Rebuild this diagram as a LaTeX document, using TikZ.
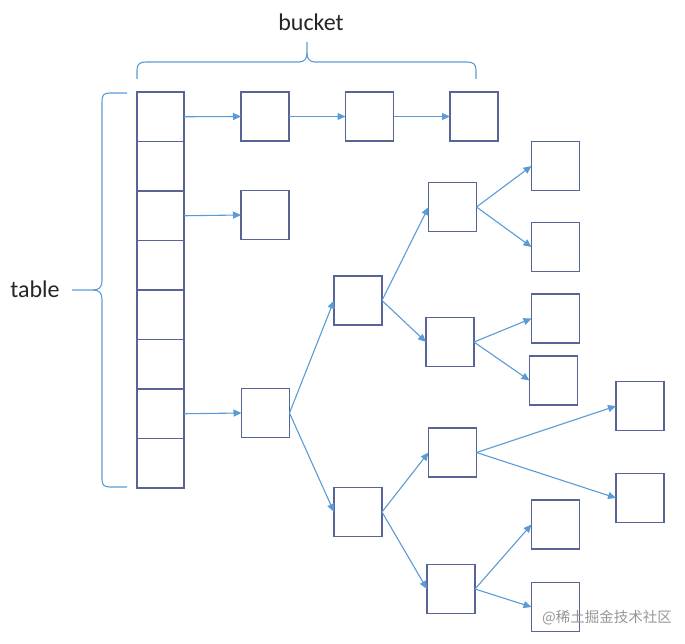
\documentclass[tikz,border=0pt]{standalone}
\usepackage{fontspec}
\setmainfont{Carlito}
\newfontfamily\cjkfont{Noto Sans CJK SC}
\usetikzlibrary{arrows.meta}
\definecolor{boxcol}{RGB}{88,100,150}
\definecolor{arrcol}{RGB}{91,155,213}
\definecolor{wmcol}{RGB}{150,150,150}
\tikzset{
  cell/.style={draw=boxcol, line width=1.2pt, minimum width=47pt, minimum height=49.5pt, inner sep=0pt, outer sep=0pt},
  bx/.style={draw=boxcol, line width=1.2pt, minimum width=48pt, minimum height=49pt, inner sep=0pt, outer sep=0pt},
  conn/.style={draw=arrcol, line width=1.1pt, -{Triangle[length=8pt,width=7pt]}},
  brc/.style={draw=arrcol, line width=1.1pt},
  lbl/.style={font=\fontsize{24}{28}\selectfont, text=black!85, inner sep=0pt}
}
\begin{document}
\begin{tikzpicture}[x=1pt,y=-1pt]
\useasboundingbox (0,0) rectangle (685,644);
% table cells
\foreach \i in {0,...,7} {
  \node[cell] (t\i) at (160.5, {92+49.5*(\i+0.5)}) {};
}
% top row
\node[bx] (a1) at (265,116.5) {};
\node[bx] (a2) at (369.5,116.5) {};
\node[bx] (a3) at (474,116.5) {};
% row 2
\node[bx] (b1) at (265,215) {};
% tree
\node[bx] (r) at (265.5,413) {};
\node[bx] (A) at (358,300.5) {};
\node[bx] (D) at (358,512) {};
\node[bx] (B) at (452.5,207) {};
\node[bx] (C) at (450,342) {};
\node[bx] (E) at (452.5,452.5) {};
\node[bx] (F) at (451,589) {};
\node[bx] (B1) at (555.5,166) {};
\node[bx] (B2) at (555.5,247) {};
\node[bx] (C1) at (555.5,318.5) {};
\node[bx] (C2) at (553.5,380.5) {};
\node[bx] (E1) at (640,406) {};
\node[bx] (E2) at (640,498) {};
\node[bx] (F1) at (555.5,524.5) {};
\node[bx] (F2) at (555.5,607) {};
% connectors
\draw[conn] (t0.east) -- (a1.west);
\draw[conn] (a1.east) -- (a2.west);
\draw[conn] (a2.east) -- (a3.west);
\draw[conn] (t2.east) -- (b1.west);
\draw[conn] (t6.east) -- (r.west);
\draw[conn] (r.east) -- (A.west);
\draw[conn] (r.east) -- (D.west);
\draw[conn] (A.east) -- (B.west);
\draw[conn] (A.east) -- (C.west);
\draw[conn] (D.east) -- (E.west);
\draw[conn] (D.east) -- (F.west);
\draw[conn] (B.east) -- (B1.west);
\draw[conn] (B.east) -- (B2.west);
\draw[conn] (C.east) -- (C1.west);
\draw[conn] (C.east) -- (C2.west);
\draw[conn] (E.east) -- (E1.west);
\draw[conn] (E.east) -- (E2.west);
\draw[conn] (F.east) -- (F1.west);
\draw[conn] (F.east) -- (F2.west);
% top brace
\draw[brc] (137,79) -- (137,70) .. controls (137,64) and (140,62) .. (146,62)
  -- (299,62) .. controls (304,62) and (307,59) .. (307,53) -- (307,42);
\draw[brc] (476,79) -- (476,70) .. controls (476,64) and (473,62) .. (467,62)
  -- (315,62) .. controls (310,62) and (307,59) .. (307,53);
% left brace
\draw[brc] (127,93) -- (110,93) .. controls (104,93) and (102,95) .. (102,101)
  -- (102,281) .. controls (102,287) and (99,290) .. (93,290) -- (72,290);
\draw[brc] (127,487) -- (110,487) .. controls (104,487) and (102,485) .. (102,479)
  -- (102,299) .. controls (102,293) and (99,290) .. (93,290);
% labels
\node[lbl] (lb) at (311,22) {bucket};
\node[lbl] (lt) at (35,289) {table};
\node[font=\cjkfont\fontsize{14.5}{16}\selectfont, text=wmcol, inner sep=0pt, anchor=east] (wm) at (672,618) {@稀土掘金技术社区};
\end{tikzpicture}
\end{document}
